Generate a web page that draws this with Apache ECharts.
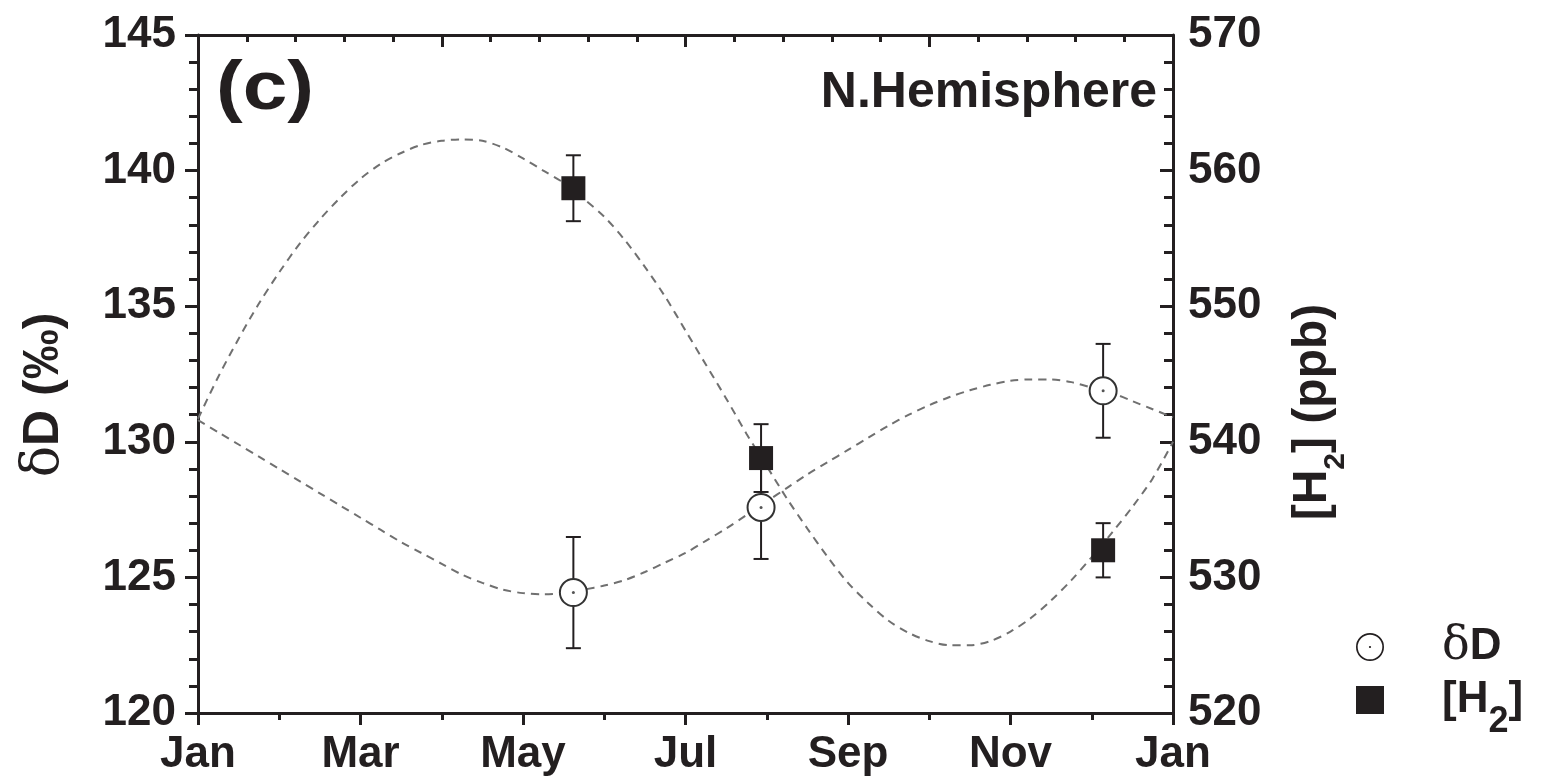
<!DOCTYPE html>
<html>
<head>
<meta charset="utf-8">
<script src="https://cdn.jsdelivr.net/npm/echarts@6/dist/echarts.min.js"></script>
<style>
  html, body { margin: 0; padding: 0; background: #ffffff; }
  #chart { width: 1541px; height: 779px; }
</style>
</head>
<body>
<div id="chart"></div>
<script>
// Month names used for the bottom axis (value 0 = Jan, 12 = next Jan)
const monthNames = ['Jan', 'Feb', 'Mar', 'Apr', 'May', 'Jun', 'Jul', 'Aug', 'Sep', 'Oct', 'Nov', 'Dec', 'Jan'];

// Seasonal fit curves, sampled every quarter month
const curveMonths = [0, 0.25, 0.5, 0.75, 1, 1.25, 1.5, 1.75, 2, 2.25, 2.5, 2.75, 3, 3.25, 3.5, 3.75, 4, 4.25, 4.5, 4.75,
  5, 5.25, 5.5, 5.75, 6, 6.25, 6.5, 6.75, 7, 7.25, 7.5, 7.75, 8, 8.25, 8.5, 8.75, 9, 9.25, 9.5, 9.75,
  10, 10.25, 10.5, 10.75, 11, 11.25, 11.5, 11.75, 12];
const dDFit = [130.8, 130.35, 129.9, 129.45, 129.0, 128.55, 128.1, 127.65, 127.2, 126.75, 126.3, 125.9, 125.5, 125.1, 124.8, 124.55, 124.42, 124.38, 124.42, 124.55,
  124.7, 124.9, 125.2, 125.55, 125.9, 126.35, 126.8, 127.3, 127.8, 128.3, 128.8, 129.25, 129.7, 130.15, 130.6, 131.0, 131.35, 131.65, 131.9, 132.1,
  132.25, 132.3, 132.3, 132.2, 132.0, 131.8, 131.5, 131.2, 130.9];
const h2Fit = [541.7, 544.8, 547.6, 550.2, 552.5, 554.6, 556.4, 558.0, 559.4, 560.5, 561.3, 561.9, 562.2, 562.3, 562.2, 561.7, 560.9, 560.0, 559.1, 557.9,
  556.6, 554.9, 552.9, 550.7, 548.2, 545.7, 543.2, 540.6, 538.2, 535.8, 533.6, 531.5, 529.6, 528.1, 526.8, 525.9, 525.3, 525.0, 525.0, 525.3,
  526.0, 527.0, 528.3, 529.8, 531.5, 533.3, 535.2, 537.3, 540.0];

// Seasonal means with their uncertainties
const sampleMonths = [4.62, 6.93, 11.14];
const dDValues = [124.44, 127.58, 131.88];
const dDErrors = [2.05, 1.9, 1.73];
const h2Values = [558.7, 538.8, 532.0];
const h2Errors = [2.43, 2.5, 2.0];

const FONT = "'Liberation Sans', Arial, sans-serif";
const INK = '#231f20';

const chart = echarts.init(document.getElementById('chart'), null, { renderer: 'canvas' });

function pairs(xs, ys) { return xs.map((x, i) => [x, ys[i]]); }
function triples(xs, ys, es) { return xs.map((x, i) => [x, ys[i], es[i]]); }

// Vertical error bar with end caps, placed through the series' own axes
function errorBarItem(params, api) {
  const x = api.value(0), y = api.value(1), e = api.value(2);
  const hi = api.coord([x, y + e]);
  const lo = api.coord([x, y - e]);
  const cap = 7.5;
  const style = { stroke: INK, lineWidth: 2 };
  return {
    type: 'group',
    children: [
      { type: 'line', shape: { x1: hi[0], y1: hi[1], x2: lo[0], y2: lo[1] }, style },
      { type: 'line', shape: { x1: hi[0] - cap, y1: hi[1], x2: hi[0] + cap, y2: hi[1] }, style },
      { type: 'line', shape: { x1: lo[0] - cap, y1: lo[1], x2: lo[0] + cap, y2: lo[1] }, style }
    ]
  };
}

// Open circle with a centre dot, for the legend
const ringIcon = 'path://M50,0 A50,50 0 1,1 49.99,0 Z M50,6 A44,44 0 1,0 50.01,6 Z M50,46 A4,4 0 1,1 49.99,46 Z';

const dashed = { type: [8, 6], width: 2, color: '#707070' };

const legendRich = {
  d: { fontFamily: "'DejaVu Serif', serif", fontSize: 46, color: INK, lineHeight: 44 },
  b: { fontFamily: FONT, fontWeight: 'bold', fontSize: 44, color: INK, lineHeight: 80 },
  s: { fontFamily: FONT, fontWeight: 'bold', fontSize: 36, color: INK, lineHeight: 36, padding: [44, 0, 0, 0] }
};

function legendBlock(name, icon, top, label) {
  return {
    orient: 'vertical', left: 1356, top: top, padding: 0, itemWidth: 28, itemHeight: 28,
    selectedMode: false,
    data: [{ name: name, icon: icon, itemStyle: { color: INK, borderWidth: 0, opacity: 1 } }],
    formatter: () => label,
    textStyle: { padding: [0, 0, 0, 53], rich: legendRich }
  };
}

const option = {
  backgroundColor: '#ffffff',
  animation: false,
  grid: { left: 198, right: 368, top: 35, bottom: 66, containLabel: false },
  xAxis: [
    {
      type: 'value', position: 'bottom', min: 0, max: 12, interval: 2,
      axisLine: { show: true, lineStyle: { color: INK, width: 3 } },
      axisTick: { show: true, inside: false, length: 12, lineStyle: { color: INK, width: 3 } },
      minorTick: { show: true, splitNumber: 2, length: 7, lineStyle: { color: INK, width: 3 } },
      splitLine: { show: false },
      axisLabel: {
        show: true, margin: 20, color: INK, fontFamily: FONT, fontWeight: 'bold', fontSize: 44,
        formatter: v => monthNames[Math.round(v)]
      }
    },
    {
      type: 'value', position: 'top', min: 0, max: 12, interval: 3,
      axisLine: { show: true, onZero: false, lineStyle: { color: INK, width: 3 } },
      axisTick: { show: true, inside: true, length: 12, lineStyle: { color: INK, width: 3 } },
      minorTick: { show: true, splitNumber: 5, length: 7, lineStyle: { color: INK, width: 3 } },
      splitLine: { show: false },
      axisLabel: { show: false }
    }
  ],
  yAxis: [
    {
      type: 'value', position: 'left', min: 120, max: 145, interval: 5,
      name: '{d|δ}{b|D (‰)}', nameLocation: 'middle', nameRotate: 90, nameGap: 128,
      nameTextStyle: {
        padding: [0, 42, 0, 0],
        rich: {
          d: { fontFamily: "'DejaVu Serif', serif", fontSize: 52, color: INK },
          b: { fontFamily: FONT, fontWeight: 'bold', fontSize: 50, color: INK }
        }
      },
      axisLine: { show: true, onZero: false, lineStyle: { color: INK, width: 3 } },
      axisTick: { show: true, inside: false, length: 13, lineStyle: { color: INK, width: 3 } },
      minorTick: { show: true, splitNumber: 5, length: 9, lineStyle: { color: INK, width: 3 } },
      splitLine: { show: false },
      axisLabel: { margin: 22, color: INK, fontFamily: FONT, fontWeight: 'bold', fontSize: 44 }
    },
    {
      type: 'value', position: 'right', min: 520, max: 570, interval: 10,
      name: '{b|[H}{s|2}{b|] (ppb)}', nameLocation: 'middle', nameRotate: 90, nameGap: 130,
      nameTextStyle: {
        padding: [0, 76, 0, 0],
        rich: {
          b: { fontFamily: FONT, fontWeight: 'bold', fontSize: 48, color: INK, verticalAlign: 'bottom', lineHeight: 48, padding: [0, 0, 14, 0] },
          s: { fontFamily: FONT, fontWeight: 'bold', fontSize: 30, color: INK, verticalAlign: 'bottom', lineHeight: 30 }
        }
      },
      axisLine: { show: true, onZero: false, lineStyle: { color: INK, width: 3 } },
      axisTick: { show: true, inside: true, length: 13, lineStyle: { color: INK, width: 3 } },
      minorTick: { show: true, splitNumber: 5, length: 9, lineStyle: { color: INK, width: 3 } },
      splitLine: { show: false },
      axisLabel: { margin: 15, color: INK, fontFamily: FONT, fontWeight: 'bold', fontSize: 44 }
    }
  ],
  legend: [
    legendBlock('δD', ringIcon, 624, '{d|δ}{b|D}'),
    legendBlock('[H2]', 'rect', 660, '{b|[H}{s|2}{b|]}')
  ],
  graphic: [
    { type: 'text', left: 216, top: 56, z: 10, scaleX: 1.18,
      style: { text: '(c)', fill: INK, font: "bold 68px 'Liberation Sans', Arial, sans-serif" } },
    { type: 'text', right: 384, top: 68, z: 10,
      style: { text: 'N.Hemisphere', fill: INK, font: "bold 50px 'Liberation Sans', Arial, sans-serif" } }
  ],
  series: [
    { name: 'δD fit', type: 'line', xAxisIndex: 0, yAxisIndex: 0, data: pairs(curveMonths, dDFit),
      smooth: 0.3, showSymbol: false, lineStyle: dashed, z: 1, silent: true },
    { name: '[H2] fit', type: 'line', xAxisIndex: 0, yAxisIndex: 1, data: pairs(curveMonths, h2Fit),
      smooth: 0.3, showSymbol: false, lineStyle: dashed, z: 1, silent: true },
    { name: 'δD error', type: 'custom', xAxisIndex: 0, yAxisIndex: 0, data: triples(sampleMonths, dDValues, dDErrors),
      renderItem: errorBarItem, z: 2, silent: true },
    { name: '[H2] error', type: 'custom', xAxisIndex: 0, yAxisIndex: 1, data: triples(sampleMonths, h2Values, h2Errors),
      renderItem: errorBarItem, z: 2, silent: true },
    { name: 'δD', type: 'scatter', xAxisIndex: 0, yAxisIndex: 0, data: pairs(sampleMonths, dDValues),
      symbol: 'circle', symbolSize: 27, z: 3,
      itemStyle: { color: '#ffffff', borderColor: '#333333', borderWidth: 2, opacity: 1 } },
    { name: 'δD centre', type: 'scatter', xAxisIndex: 0, yAxisIndex: 0, data: pairs(sampleMonths, dDValues),
      symbol: 'circle', symbolSize: 3, z: 4, silent: true, itemStyle: { color: '#555555', opacity: 1 } },
    { name: '[H2]', type: 'scatter', xAxisIndex: 0, yAxisIndex: 1, data: pairs(sampleMonths, h2Values),
      symbol: 'rect', symbolSize: 24, z: 3, itemStyle: { color: INK, opacity: 1 } }
  ]
};

chart.setOption(option);
</script>
</body>
</html>
